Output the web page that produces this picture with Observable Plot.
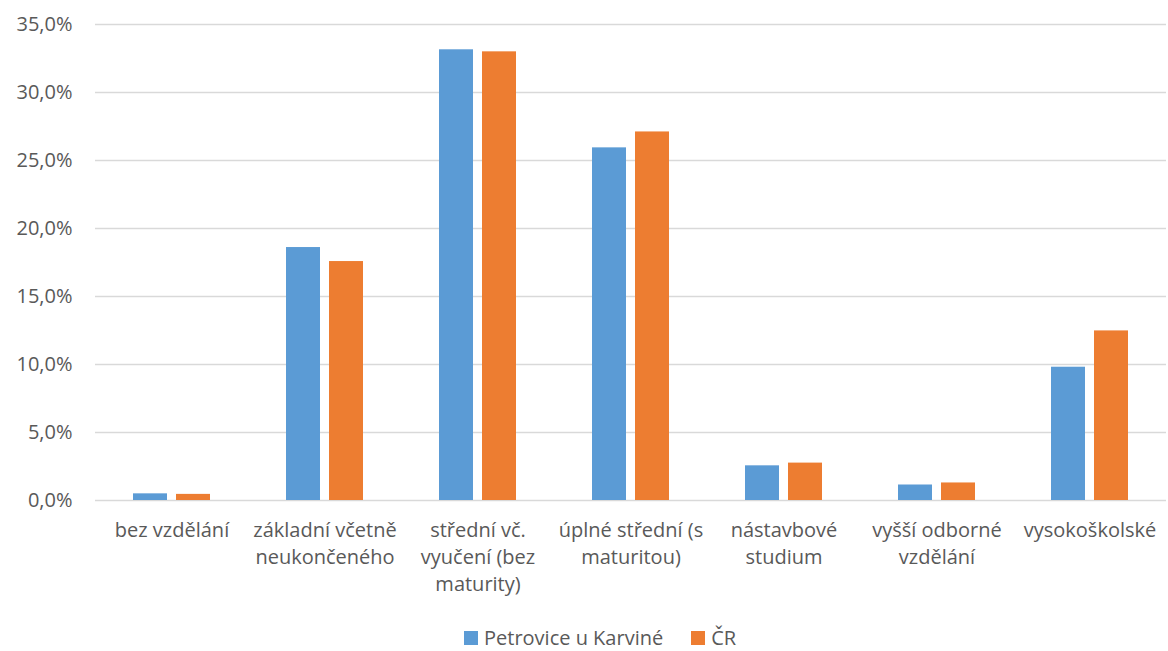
<!DOCTYPE html>
<html><head><meta charset="utf-8">
<script src="https://cdn.jsdelivr.net/npm/d3@7"></script>
<script src="https://cdn.jsdelivr.net/npm/@observablehq/plot@0.6"></script>
<style>
body{margin:0;background:#fff;font-family:"Open Sans",sans-serif;overflow:hidden}
#legend{padding-left:464px}
.lg-swatch{margin-right:28px !important}
.lg-swatch>svg{margin-right:6px !important}
</style></head><body><div id="chart"></div><div id="legend"></div>
<script>
const categories = ["bez vzdělání","základní včetně neukončeného","střední vč. vyučení (bez maturity)","úplné střední (s maturitou)","nástavbové studium","vyšší odborné vzdělání","vysokoškolské"];
const tickLabels = ["bez vzdělání","základní včetně\nneukončeného","střední vč.\nvyučení (bez\nmaturity)","úplné střední (s\nmaturitou)","nástavbové\nstudium","vyšší odborné\nvzdělání","vysokoškolské"];
const series = ["Petrovice u Karviné","ČR"];
const petrovice = [0.49, 18.6, 33.14, 25.93, 2.55, 1.14, 9.8];
const cr = [0.45, 17.57, 32.99, 27.1, 2.75, 1.29, 12.47];
const colors = ["#5B9BD5","#ED7D31"];
const yTicks = [0,5,10,15,20,25,30,35];

const data = categories.flatMap((c,i)=>[
  {category:c, series:series[0], value:petrovice[i]},
  {category:c, series:series[1], value:cr[i]}
]);
const fmt = d => d.toFixed(1).replace(".", ",") + "%";

const chart = Plot.plot({
  width: 1168, height: 621,
  marginLeft: 92, marginRight: 0, marginTop: 24, marginBottom: 121,
  style: {fontFamily: "Open Sans", fontSize: "20px", color: "#595959", background: "#fff"},
  fx: {domain: categories, padding: 0, label: null},
  x: {domain: series, axis: null, paddingInner: 0.205, paddingOuter: 0.852},
  y: {domain: [0, 35], label: null},
  color: {domain: series, range: colors},
  marks: [
    Plot.ruleY(yTicks, {stroke: "#d9d9d9", strokeWidth: 1.5}),
    Plot.barY(data, {fx: "category", x: "series", y: "value", fill: "series"}),
    Plot.axisY({ticks: yTicks, tickFormat: fmt, tickSize: 0, tickPadding: 23, label: null, fill: "#595959", fontSize: 20}),
    Plot.axisFx({anchor: "bottom", tickSize: 0, tickPadding: 18, tickFormat: d => tickLabels[categories.indexOf(d)], label: null, fontSize: 20, lineHeight: 1.33, fill: "#595959"})
  ]
});
document.getElementById("chart").append(chart);

const legend = Plot.legend({
  color: {domain: series, range: colors},
  swatchSize: 14,
  className: "lg",
  style: {fontSize: "20px", fontFamily: "Open Sans", color: "#595959"}
});
document.getElementById("legend").append(legend);
</script>
</body></html>
